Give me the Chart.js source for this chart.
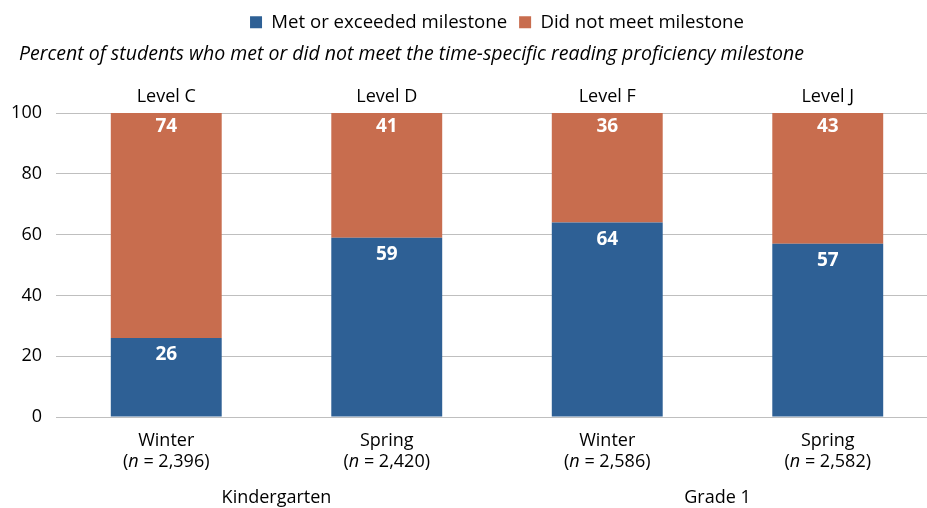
<!DOCTYPE html>
<html>
<head>
<meta charset="utf-8">
<script src="https://cdn.jsdelivr.net/npm/chart.js@4.4.0/dist/chart.umd.min.js"></script>
<style>
  html, body { margin: 0; padding: 0; background: #fff; overflow: hidden; }
  #wrap { width: 927px; height: 508px; overflow: hidden; position: relative; }
  canvas { display: block; }
</style>
</head>
<body>
<div id="wrap"><canvas id="c" width="942" height="508" style="width:942px;height:508px"></canvas></div>
<script>
const categories = ["Winter", "Spring", "Winter", "Spring"];
const sampleSizes = ["2,396", "2,420", "2,586", "2,582"];
const levels = ["Level C", "Level D", "Level F", "Level J"];
const groups = ["Kindergarten", "Grade 1"];
const groupSpans = [[0, 1], [2, 3]];
const metValues = [26, 59, 64, 57];
const notMetValues = [74, 41, 36, 43];
const yTicks = [0, 20, 40, 60, 80, 100];
const seriesNames = ["Met or exceeded milestone", "Did not meet milestone"];
const chartTitle = "Percent of students who met or did not meet the time-specific reading proficiency milestone";

const FONT = "'Open Sans', 'Noto Sans', sans-serif";
const BLUE = "#2E6095";
const ORANGE = "#C86D4E";
const FS = 18;
const labelOffsets = [17, 14];

const textPlugin = {
  id: "textPlugin",
  afterDatasetsDraw(chart) {
    const ctx = chart.ctx;
    ctx.save();
    ctx.textAlign = "center";
    ctx.textBaseline = "middle";
    ctx.fillStyle = "#fff";
    ctx.font = "bold 19px " + FONT;
    chart.data.datasets.forEach((ds, di) => {
      const meta = chart.getDatasetMeta(di);
      meta.data.forEach((bar, i) => {
        ctx.fillText(String(ds.data[i]), bar.x, bar.y + labelOffsets[di]);
      });
    });
    ctx.restore();
  },
  afterDraw(chart) {
    const ctx = chart.ctx;
    const x = chart.scales.x;
    const area = chart.chartArea;
    ctx.save();
    ctx.fillStyle = "#000";
    ctx.textBaseline = "middle";
    // title
    ctx.textAlign = "left";
    ctx.font = "italic 19.5px " + FONT;
    ctx.fillText(chartTitle, 19, 54);
    // level labels
    ctx.textAlign = "center";
    ctx.font = FS + "px " + FONT;
    levels.forEach((lv, i) => {
      ctx.fillText(lv, x.getPixelForValue(i), area.top - 16);
    });
    // category labels
    categories.forEach((c, i) => {
      const cx = x.getPixelForValue(i);
      ctx.textAlign = "center";
      ctx.font = FS + "px " + FONT;
      ctx.fillText(c, cx, area.bottom + 24);
      const p1 = "(", p2 = "n", p3 = " = " + sampleSizes[i] + ")";
      ctx.font = FS + "px " + FONT; const w1 = ctx.measureText(p1).width, w3 = ctx.measureText(p3).width;
      ctx.font = "italic " + FS + "px " + FONT; const w2 = ctx.measureText(p2).width;
      const sx = cx - (w1 + w2 + w3) / 2;
      ctx.textAlign = "left";
      ctx.font = FS + "px " + FONT; ctx.fillText(p1, sx, area.bottom + 45);
      ctx.font = "italic " + FS + "px " + FONT; ctx.fillText(p2, sx + w1, area.bottom + 45);
      ctx.font = FS + "px " + FONT; ctx.fillText(p3, sx + w1 + w2, area.bottom + 45);
    });
    // group labels
    ctx.textAlign = "center";
    ctx.font = FS + "px " + FONT;
    groups.forEach((g, gi) => {
      const [a, b] = groupSpans[gi];
      const gx = (x.getPixelForValue(a) + x.getPixelForValue(b)) / 2;
      ctx.fillText(g, gx, area.bottom + 81);
    });
    ctx.restore();
  }
};

new Chart(document.getElementById("c"), {
  type: "bar",
  data: {
    labels: categories,
    datasets: [
      { label: seriesNames[0], data: metValues, backgroundColor: BLUE, borderWidth: 0 },
      { label: seriesNames[1], data: notMetValues, backgroundColor: ORANGE, borderWidth: 0 }
    ]
  },
  options: {
    responsive: false,
    animation: false,
    events: [],
    layout: { padding: { left: 8, right: 4, top: 1, bottom: 91 } },
    datasets: { bar: { barPercentage: 1, categoryPercentage: 0.503 } },
    scales: {
      x: { stacked: true, display: false },
      y: {
        stacked: true,
        min: 0, max: 100,
        afterBuildTicks: (s) => { s.ticks = yTicks.map(v => ({ value: v })); },
        afterFit: (s) => { s.width = 48; },
        border: { display: false },
        grid: { color: "#BFBFBF", lineWidth: 1, drawTicks: false },
        ticks: { color: "#000", font: { family: FONT, size: FS }, padding: 14 }
      }
    },
    plugins: {
      legend: {
        position: "top",
        weight: 3000,
        fullSize: false,
        labels: {
          color: "#000",
          font: { family: FONT, size: 18.6 },
          boxWidth: 12, boxHeight: 12,
          padding: 12
        }
      },
      title: {
        display: true,
        text: " ",
        weight: 500,
        font: { family: FONT, size: 17 },
        padding: { top: 10, bottom: 41 }
      },
      tooltip: { enabled: false }
    }
  },
  plugins: [textPlugin]
});
</script>
</body>
</html>
